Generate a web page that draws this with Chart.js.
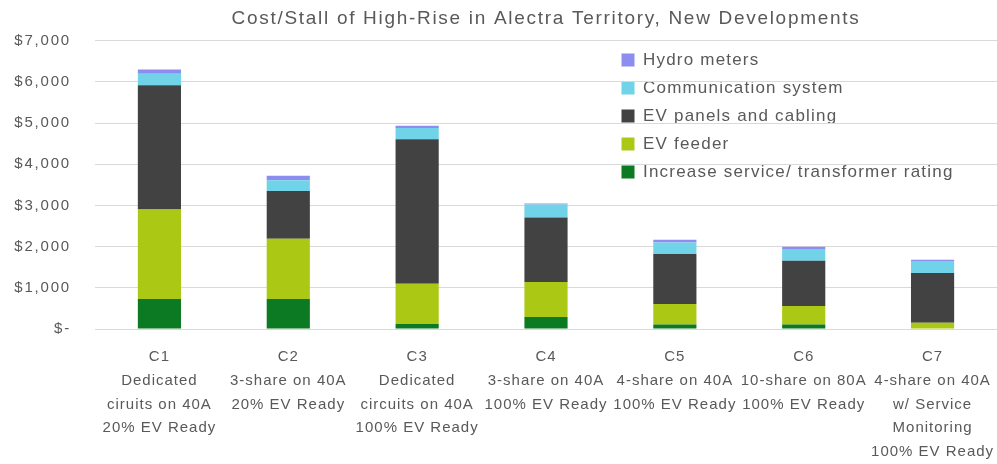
<!DOCTYPE html>
<html>
<head>
<meta charset="utf-8">
<script src="https://cdn.jsdelivr.net/npm/chart.js@4"></script>
<style>
html,body{margin:0;padding:0;background:#ffffff;}
#wrap{width:997px;height:464px;position:relative;}
</style>
</head>
<body>
<div id="wrap"><canvas id="c" width="997" height="464"></canvas></div>
<script>
// ---- Data ----
const categories = [
  ["C1", "Dedicated", "ciruits on 40A", "20% EV Ready"],
  ["C2", "3-share on 40A", "20% EV Ready"],
  ["C3", "Dedicated", "circuits on 40A", "100% EV Ready"],
  ["C4", "3-share on 40A", "100% EV Ready"],
  ["C5", "4-share on 40A", "100% EV Ready"],
  ["C6", "10-share on 80A", "100% EV Ready"],
  ["C7", "4-share on 40A", "w/ Service", "Monitoring", "100% EV Ready"]
];
const increaseService = [730, 730, 120, 290, 110, 110, 0];
const evFeeder        = [2170, 1460, 980, 850, 500, 450, 150];
const evPanels        = [3020, 1160, 3510, 1570, 1210, 1100, 1210];
const commSystem      = [280, 260, 270, 310, 280, 280, 290];
const hydroMeters     = [100, 110, 55, 25, 70, 55, 30];
const yTickLabels = ["$-", "$1,000", "$2,000", "$3,000", "$4,000", "$5,000", "$6,000", "$7,000"];
const chartTitle = "Cost/Stall of High-Rise in Alectra Territory, New Developments";

// ---- Helpers ----
const FONT = "'Liberation Sans', Arial, Helvetica, sans-serif";
const GREY = "#595959";

function withSpacing(obj, sp) {
  if (!obj || obj.__spaced) return;
  const orig = obj.draw;
  obj.draw = function () {
    const c = this.ctx;
    const prev = c.letterSpacing;
    c.letterSpacing = sp;
    orig.apply(this, arguments);
    c.letterSpacing = prev || "0px";
  };
  obj.__spaced = true;
}

const LEGEND_LEFT = 610.5;
const LEGEND_TOP = 40.5;

const tweaks = {
  id: 'tweaks',
  beforeLayout(chart) {
    const lg = chart.legend;
    if (lg && !lg.__patched) {
      const fit = lg.fit;
      lg.fit = function () {
        fit.apply(this, arguments);
        this.width = 0;
      };
      lg.__patched = true;
    }
    withSpacing(lg, '1.2px');
    withSpacing(chart.titleBlock, '1.7px');
    withSpacing(chart.scales.x, '1px');
    withSpacing(chart.scales.y, '1.8px');
  },
  afterLayout(chart) {
    const lg = chart.legend;
    if (!lg) return;
    lg.left = LEGEND_LEFT;
    lg.width = 385;
    lg.right = lg.left + lg.width;
    lg.top = LEGEND_TOP;
    lg.height = 260;
    lg.bottom = lg.top + lg.height;
  }
};

new Chart(document.getElementById('c'), {
  type: 'bar',
  data: {
    labels: categories,
    datasets: [
      { label: 'Increase service/ transformer rating', data: increaseService, backgroundColor: '#0b7a22' },
      { label: 'EV feeder', data: evFeeder, backgroundColor: '#abc914' },
      { label: 'EV panels and cabling', data: evPanels, backgroundColor: '#424242' },
      { label: 'Communication system', data: commSystem, backgroundColor: '#70d3e7' },
      { label: 'Hydro meters', data: hydroMeters, backgroundColor: '#8d8df0' }
    ]
  },
  options: {
    responsive: false,
    animation: false,
    devicePixelRatio: 1,
    layout: { padding: 0 },
    datasets: {
      bar: { categoryPercentage: 1, barPercentage: 0.335, borderWidth: 0 }
    },
    plugins: {
      tooltip: { enabled: false },
      title: {
        display: true,
        text: chartTitle,
        fullSize: false,
        color: GREY,
        font: { family: FONT, size: 19, weight: 'normal', lineHeight: 1.2 },
        padding: { top: 7.2, bottom: 10.7 }
      },
      legend: {
        display: true,
        position: 'right',
        align: 'start',
        reverse: true,
        labels: {
          boxWidth: 13,
          boxHeight: 13,
          padding: 11,
          color: GREY,
          font: { family: FONT, size: 17 }
        }
      }
    },
    scales: {
      x: {
        stacked: true,
        grid: { display: false, drawTicks: false },
        border: { display: false },
        ticks: {
          autoSkip: false,
          maxRotation: 0,
          minRotation: 0,
          padding: 16,
          color: GREY,
          font: { family: FONT, size: 15, lineHeight: 1.583 }
        },
        afterFit(scale) {
          scale.height = 135;
          scale.paddingLeft = 0;
          scale.paddingRight = 0;
        }
      },
      y: {
        stacked: true,
        min: 0,
        max: 7000,
        grid: { color: '#d9d9d9', lineWidth: 1, drawTicks: false },
        border: { display: false },
        ticks: {
          stepSize: 1000,
          padding: 24,
          color: GREY,
          font: { family: FONT, size: 15 },
          callback: (v, i) => yTickLabels[i]
        },
        afterFit(scale) {
          scale.width = 95;
          scale.paddingTop = 0;
          scale.paddingBottom = 0;
        }
      }
    }
  },
  plugins: [tweaks]
});
</script>
</body>
</html>
